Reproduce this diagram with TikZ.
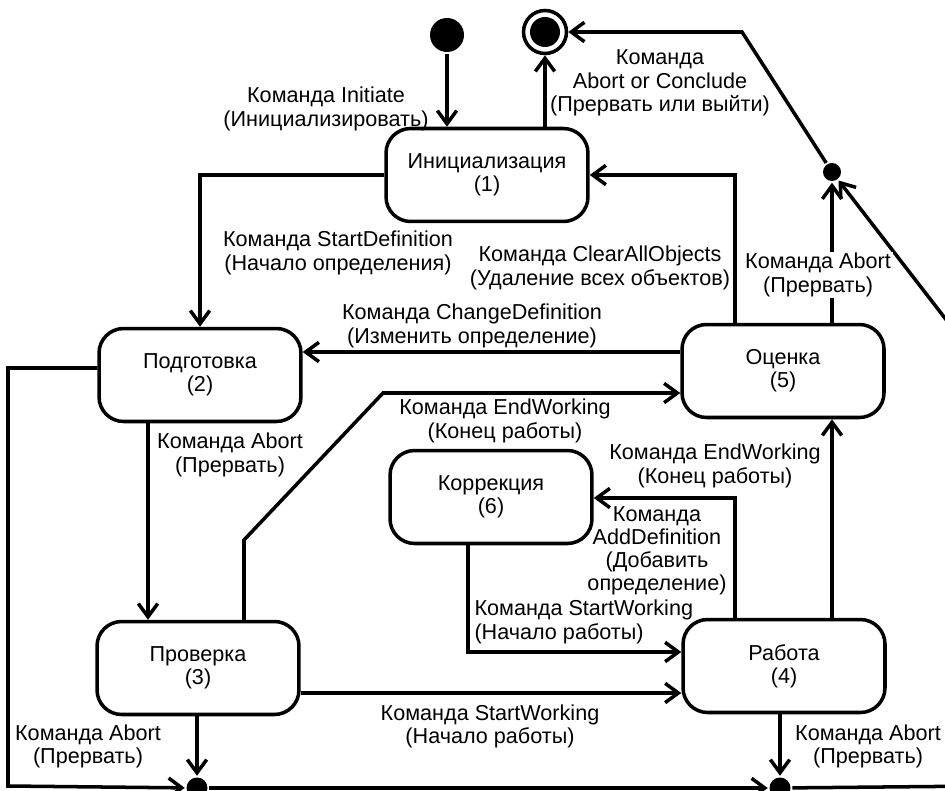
\documentclass[tikz,border=0pt]{standalone}
\usepackage{fontspec}
\setmainfont{Liberation Sans}
\usetikzlibrary{arrows.meta}

\tikzset{
  state/.style={draw, rounded corners=14pt, minimum width=4.04cm, minimum height=1.86cm, align=center},
  lbl/.style={align=center, inner sep=1pt},
  junct/.style={circle, fill, inner sep=0pt, minimum size=#1},
  final/.style={circle, draw, inner sep=0pt, minimum size=0.86cm,
    path picture={\fill (path picture bounding box.center) circle (0.3cm);}},
  flow/.style={->, line width=2pt}
}

\begin{document}
\begin{tikzpicture}[x=0.02cm, y=-0.02cm, line width=2pt,
  >={Straight Barb[length=7.5pt, width=11pt]},
  font=\fontsize{12.3}{13.2}\selectfont]
\useasboundingbox (0,0) rectangle (945,790);
\clip (0,0) rectangle (945,790);

% states
\node[junct=0.68cm] (start) at (447,35) {};
\node[final] (fin) at (545,32) {};
\node[state] (ini) at (487,175) {Инициализация\\(1)};
\node[state] (prep) at (200,375) {Подготовка\\(2)};
\node[state] (eval) at (783,371) {Оценка\\(5)};
\node[state] (corr) at (491,497) {Коррекция\\(6)};
\node[state] (check) at (198,668) {Проверка\\(3)};
\node[state] (work) at (784,666) {Работа\\(4)};

% junctions
\node[junct=0.36cm] (jtop) at (832,172) {};
\node[junct=0.42cm] (jleft) at (197,788) {};
\node[junct=0.42cm] (jright) at (780,788) {};

% bend points
\coordinate (bfin) at (742,32);
\coordinate (offr) at (985,370);
\coordinate (offb) at (985,786);
\coordinate (bclear) at (735,175);
\coordinate (bchange) at (500,352);
\coordinate (bl1) at (8,368);
\coordinate (bl2) at (8,786);
\coordinate (babort) at (148,500);
\coordinate (bend1) at (244,540);
\coordinate (bend2) at (383,393);
\coordinate (badd) at (735,498);
\coordinate (bstart) at (468,652);
\coordinate (bwork) at (500,693);

% transitions
\draw[flow] (start) -- (start |- ini.north);
\draw[flow] (ini.north -| fin) -- (fin);
\draw[flow] (jtop) -- (bfin) -- (fin);
\draw[flow] (offr) -- (jtop);
\draw[flow] (eval.north -| jtop) -- (jtop);
\draw[flow] (eval.north -| bclear) -- (bclear) -- (ini.east);
\draw[flow] (ini.west) -| (prep.north);
\draw[flow] (eval.west |- bchange) -- (prep.east |- bchange);
\draw[flow] (prep.west |- bl1) -- (bl1) -- (bl2) -- (jleft);
\draw[flow] (prep.south -| babort) -- (check.north -| babort);
\draw[flow] (check.north -| bend1) -- (bend1) -- (bend2) -- (eval.west |- bend2);
\draw[flow] (work.north -| jtop) -- (eval.south -| jtop);
\draw[flow] (work.north -| badd) -- (badd) -- (corr.east |- badd);
\draw[flow] (corr.south -| bstart) -- (bstart) -- (work.west |- bstart);
\draw[flow] (check.east |- bwork) -- (work.west |- bwork);
\draw[flow] (check.south -| jleft) -- (jleft);
\draw[flow] (work.south -| jright) -- (jright);
\draw[flow] (jleft) -- (jright);
\draw (jright) -- (offb);

% labels
\node[lbl] (linit) at (326,109) {Команда Initiate\\(Инициализировать)};
\node[lbl] (lconc) at (660,83) {Команда\\Abort or Conclude\\(Прервать или выйти)};
\node[lbl, fill=white] (labort5) at (818,275) {Команда Abort\\(Прервать)};
\node[lbl] (lclear) at (600,268) {Команда ClearAllObjects\\(Удаление всех объектов)};
\node[lbl] (lstartdef) at (338,253) {Команда StartDefinition\\(Начало определения)};
\node[lbl] (lchange) at (472,326) {Команда ChangeDefinition\\(Изменить определение)};
\node[lbl] (labort2) at (230,455) {Команда Abort\\(Прервать)};
\node[lbl] (lend3) at (505,421) {Команда EndWorking\\(Конец работы)};
\node[lbl] (lend4) at (715,466) {Команда EndWorking\\(Конец работы)};
\node[lbl] (ladd) at (657,551) {Команда\\AddDefinition\\(Добавить\\определение)};
\node[lbl, align=left, anchor=west] (lstart6) at (471,622) {Команда StartWorking\\(Начало работы)};
\node[lbl] (lstart3) at (490,726) {Команда StartWorking\\(Начало работы)};
\node[lbl] (labort3) at (88,746) {Команда Abort\\(Прервать)};
\node[lbl] (labort4) at (868,746) {Команда Abort\\(Прервать)};
\end{tikzpicture}
\end{document}
